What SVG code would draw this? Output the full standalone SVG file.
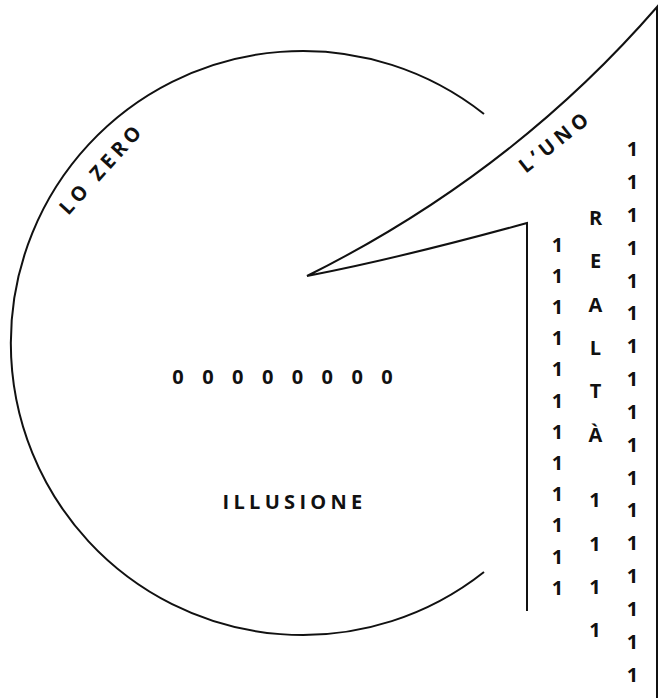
<svg xmlns="http://www.w3.org/2000/svg" width="658" height="698" viewBox="0 0 658 698">
  <style>
    .ln { fill: none; stroke: #111; stroke-width: 2; stroke-linecap: butt; stroke-linejoin: miter; }
    .t { font-family: "Open Sans", "Liberation Sans", sans-serif; font-weight: 700; font-size: 20px; fill: #111; }
    .c { text-anchor: middle; }
  </style>
  <rect width="658" height="698" fill="#fff"/>
  <g id="connectors">
    <path id="zero-arc" class="ln" d="M 484 114 A 292 292 0 1 0 484 572"/>
    <path id="one-shape" class="ln" d="M 527 611 L 527 223 Q 400 258 307 276 Q 512 174 657 7 L 657 698"/>
  </g>
  <g id="lo-zero">
    <text class="t c" letter-spacing="4.4" transform="translate(105.3,174.8) rotate(-48)" x="2.2" y="0">LO ZERO</text>
  </g>
  <g id="l-uno">
    <text class="t c" letter-spacing="4.8" transform="translate(557.9,148.1) rotate(-38.5)" x="2.4" y="0">L’UNO</text>
  </g>
  <g id="zeros">
    <text class="t c" x="178 207.9 237.7 267.6 297.4 327.3 357.1 387" y="383.5">00000000</text>
  </g>
  <g id="illusione">
    <text class="t c" letter-spacing="4.3" x="294.6" y="508.5">ILLUSIONE</text>
  </g>
  <g id="realta">
    <text class="t c" x="595.5 595.5 595.5 595.5 595.5 595.5" y="224.7 268.1 311.5 354.9 398.3 441.7">REALTÀ</text>
    <text class="t c" x="595 595 595 595" y="507.1 550.5 593.9 637.3">1111</text>
  </g>
  <g id="ones-left">
    <text class="t c" x="557.5 557.5 557.5 557.5 557.5 557.5 557.5 557.5 557.5 557.5 557.5 557.5" y="251.7 282.9 314.1 345.2 376.4 407.6 438.8 470 501.1 532.3 563.5 594.7">111111111111</text>
  </g>
  <g id="ones-right">
    <text class="t c" x="632.5 632.5 632.5 632.5 632.5 632.5 632.5 632.5 632.5 632.5 632.5 632.5 632.5 632.5 632.5 632.5 632.5" y="156.1 188.9 221.8 254.6 287.5 320.3 353.1 386 418.8 451.7 484.5 517.3 550.2 583 615.9 648.7 681.5">11111111111111111</text>
  </g>
</svg>
